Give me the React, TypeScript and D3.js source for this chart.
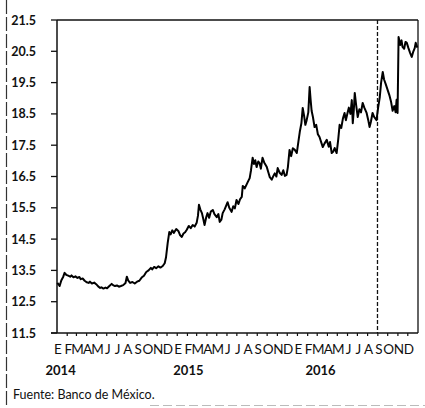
import React from "react";
import * as d3 from "d3";

const fxDates: string[] = [
  "2014-01-02","2014-01-06","2014-01-09","2014-01-14","2014-01-20","2014-01-24","2014-01-29",
  "2014-02-04","2014-02-10","2014-02-14","2014-02-20","2014-02-26","2014-03-04","2014-03-10",
  "2014-03-14","2014-03-20","2014-03-26","2014-04-01","2014-04-07","2014-04-11","2014-04-17",
  "2014-04-24","2014-04-30","2014-05-06","2014-05-12","2014-05-16","2014-05-22","2014-05-28",
  "2014-06-02","2014-06-09","2014-06-16","2014-06-20","2014-06-26","2014-07-02","2014-07-08",
  "2014-07-14","2014-07-21","2014-07-28","2014-08-01","2014-08-05","2014-08-11","2014-08-18",
  "2014-08-25","2014-09-01","2014-09-08","2014-09-15","2014-09-22","2014-09-29","2014-10-06",
  "2014-10-13","2014-10-17","2014-10-23","2014-10-29","2014-11-05","2014-11-11","2014-11-18",
  "2014-11-24","2014-11-28","2014-12-03","2014-12-08","2014-12-12","2014-12-17","2014-12-22",
  "2014-12-29","2015-01-05","2015-01-10","2015-01-15","2015-01-20","2015-01-25","2015-01-30",
  "2015-02-05","2015-02-11","2015-02-17","2015-02-23","2015-03-01","2015-03-05","2015-03-08",
  "2015-03-12","2015-03-17","2015-03-21","2015-03-25","2015-03-30","2015-04-03","2015-04-08",
  "2015-04-13","2015-04-19","2015-04-24","2015-05-01","2015-05-06","2015-05-10","2015-05-15",
  "2015-05-19","2015-05-25","2015-06-03","2015-06-08","2015-06-15","2015-06-20","2015-06-25",
  "2015-06-30","2015-07-06","2015-07-11","2015-07-16","2015-07-19","2015-07-25","2015-08-03",
  "2015-08-09","2015-08-13","2015-08-18","2015-08-22","2015-08-26","2015-08-30","2015-09-04",
  "2015-09-08","2015-09-12","2015-09-17","2015-09-22","2015-09-30","2015-10-05","2015-10-09",
  "2015-10-15","2015-10-20","2015-10-24","2015-10-29","2015-11-02","2015-11-08","2015-11-14",
  "2015-11-19","2015-11-24","2015-11-29","2015-12-03","2015-12-08","2015-12-13","2015-12-18",
  "2015-12-24","2015-12-30","2016-01-04","2016-01-08","2016-01-13","2016-01-17","2016-01-21",
  "2016-01-25","2016-01-29","2016-02-03","2016-02-07","2016-02-10","2016-02-13","2016-02-17",
  "2016-02-22","2016-02-27","2016-03-03","2016-03-08","2016-03-13","2016-03-18","2016-03-23",
  "2016-03-30","2016-04-05","2016-04-09","2016-04-14","2016-04-19","2016-04-23","2016-04-29",
  "2016-05-04","2016-05-08","2016-05-13","2016-05-18","2016-05-23","2016-05-27","2016-06-01",
  "2016-06-05","2016-06-10","2016-06-14","2016-06-17","2016-06-20","2016-06-23","2016-06-27",
  "2016-07-02","2016-07-07","2016-07-12","2016-07-17","2016-07-22","2016-07-29","2016-08-03",
  "2016-08-07","2016-08-11","2016-08-16","2016-08-21","2016-08-28","2016-09-02","2016-09-07",
  "2016-09-11","2016-09-16","2016-09-20","2016-09-25","2016-10-01","2016-10-06","2016-10-11",
  "2016-10-16","2016-10-21","2016-10-25","2016-10-28","2016-10-31","2016-11-03","2016-11-08",
  "2016-11-12","2016-11-15","2016-11-20","2016-11-24","2016-11-28","2016-12-03","2016-12-08",
  "2016-12-13","2016-12-18","2016-12-22","2016-12-25","2016-12-30"
];

const fxValues: number[] = [
  13.10,13.05,13.00,13.18,13.30,13.42,13.36,
  13.33,13.30,13.34,13.28,13.31,13.26,13.29,
  13.22,13.24,13.17,13.12,13.10,13.14,13.08,
  13.11,13.06,12.99,12.94,12.96,12.92,12.95,
  12.93,13.00,13.07,13.03,13.00,13.02,12.98,
  13.00,13.03,13.10,13.30,13.18,13.10,13.13,
  13.08,13.14,13.17,13.27,13.33,13.45,13.50,
  13.58,13.53,13.61,13.57,13.63,13.59,13.64,
  13.73,13.92,14.37,14.73,14.65,14.78,14.70,
  14.82,14.75,14.62,14.57,14.68,14.72,14.80,
  14.92,14.85,14.95,14.90,15.02,15.25,15.60,
  15.45,15.33,15.15,14.95,15.20,15.33,15.18,
  15.38,15.43,15.30,15.20,15.30,15.05,15.12,
  15.33,15.45,15.68,15.50,15.37,15.55,15.48,
  15.75,15.62,15.78,15.85,16.20,16.12,16.32,
  16.45,16.70,17.10,16.90,17.02,16.80,16.98,
  16.93,16.75,17.10,16.95,16.80,16.62,16.48,
  16.40,16.52,16.60,16.50,16.77,16.62,16.55,
  16.70,16.52,16.55,16.80,17.35,17.15,17.40,
  17.35,17.25,17.62,17.92,18.20,18.69,18.45,
  18.15,18.30,18.55,19.36,18.95,18.60,18.40,
  18.08,18.15,17.85,17.76,17.60,17.44,17.55,
  17.67,17.45,17.60,17.25,17.30,17.41,17.25,
  17.70,18.15,18.05,18.35,18.53,18.30,18.53,
  18.70,18.50,18.94,18.20,18.60,19.17,18.80,
  18.40,18.65,18.55,18.85,18.70,18.53,18.30,
  18.08,18.25,18.53,18.40,18.30,18.70,19.04,
  19.50,19.84,19.60,19.45,19.26,19.10,18.90,
  18.60,18.75,18.55,18.95,18.53,20.96,20.70,
  20.85,20.64,20.58,20.80,20.77,20.60,20.45,
  20.32,20.50,20.60,20.77,20.62
];

const yTicks: number[] = [11.5, 12.5, 13.5, 14.5, 15.5, 16.5, 17.5, 18.5, 19.5, 20.5, 21.5];
const monthLetters: string[] = ["E", "F", "M", "A", "M", "J", "J", "A", "S", "O", "N", "D"];
const years: number[] = [2014, 2015, 2016];
const yearLabelDates: string[] = ["2014-01-12", "2015-02-04", "2016-03-11"];
const markerDate = "2016-08-31";
const sourceText = "Fuente: Banco de México.";

const parse = d3.timeParse("%Y-%m-%d");

export default function App() {
  const W = 425, H = 408;
  const left = 57, right = 418, top = 20, bottom = 333;
  const x = d3.scaleTime()
    .domain([new Date(2014, 0, 1), new Date(2017, 0, 1)])
    .range([left, right]);
  const y = d3.scaleLinear().domain([11.5, 21.5]).range([bottom, top]);

  const data = fxDates.map((d, i) => ({ date: parse(d) as Date, value: fxValues[i] }));
  const line = d3.line<{ date: Date; value: number }>()
    .x((d) => x(d.date))
    .y((d) => y(d.value))
    .curve(d3.curveLinear);

  const months: { date: Date; label: string }[] = [];
  years.forEach((yr) => {
    monthLetters.forEach((m, i) => months.push({ date: new Date(yr, i, 1), label: m }));
  });

  const mx = x(parse(markerDate) as Date);
  const font = "Lato, 'Open Sans', sans-serif";

  return (
    <svg
      width={W}
      height={H}
      viewBox={`0 0 ${W} ${H}`}
      style={{ position: "absolute", left: 0, top: 0, background: "#fff" }}
    >
      <rect x={0} y={0} width={W} height={H} fill="#fff" />
      <line x1={6.5} x2={6.5} y1={0} y2={H} stroke="#333" strokeWidth={1.2} strokeDasharray="14,3" />
      <line x1={150} x2={W} y1={405.5} y2={405.5} stroke="#bbb" strokeWidth={1} strokeDasharray="9,4" />

      <line x1={left} x2={right} y1={top} y2={top} stroke="#111" strokeWidth={1.3} />
      <line x1={right} x2={right} y1={top} y2={bottom} stroke="#111" strokeWidth={1.3} />
      <line x1={left} x2={left} y1={top} y2={bottom} stroke="#111" strokeWidth={1.5} />
      <line x1={left - 6} x2={right} y1={bottom} y2={bottom} stroke="#111" strokeWidth={1.5} />

      {yTicks.map((t) => (
        <g key={t}>
          <line x1={left - 6} x2={left} y1={y(t)} y2={y(t)} stroke="#111" strokeWidth={1.3} />
          <text
            x={36}
            y={y(t)}
            dy="0.36em"
            textAnchor="end"
            fontFamily={font}
            fontSize={12.5}
            fontWeight={700}
            fill="#111"
          >
            {t.toFixed(1)}
          </text>
        </g>
      ))}

      {months.slice(1).map((m, i) => (
        <line
          key={i}
          x1={x(m.date)}
          x2={x(m.date)}
          y1={bottom}
          y2={bottom + 3}
          stroke="#111"
          strokeWidth={1.2}
        />
      ))}

      {months.map((m, i) => (
        <text
          key={i}
          x={x(m.date) + 1}
          y={353.5}
          textAnchor="middle"
          fontFamily={font}
          fontSize={13.5}
          fill="#111"
        >
          {m.label}
        </text>
      ))}

      {years.map((yr, i) => (
        <text
          key={yr}
          x={x(parse(yearLabelDates[i]) as Date)}
          y={375}
          textAnchor="middle"
          fontFamily={font}
          fontSize={13}
          fontWeight={700}
          fill="#111"
        >
          {yr}
        </text>
      ))}

      <line x1={mx} x2={mx} y1={top} y2={bottom} stroke="#111" strokeWidth={1.3} strokeDasharray="4,2" />

      <path d={line(data) || ""} fill="none" stroke="#000" strokeWidth={2} strokeLinejoin="round" />

      <text x={13} y={399} fontFamily={font} fontSize={12.5} fill="#111">
        {sourceText}
      </text>
    </svg>
  );
}
